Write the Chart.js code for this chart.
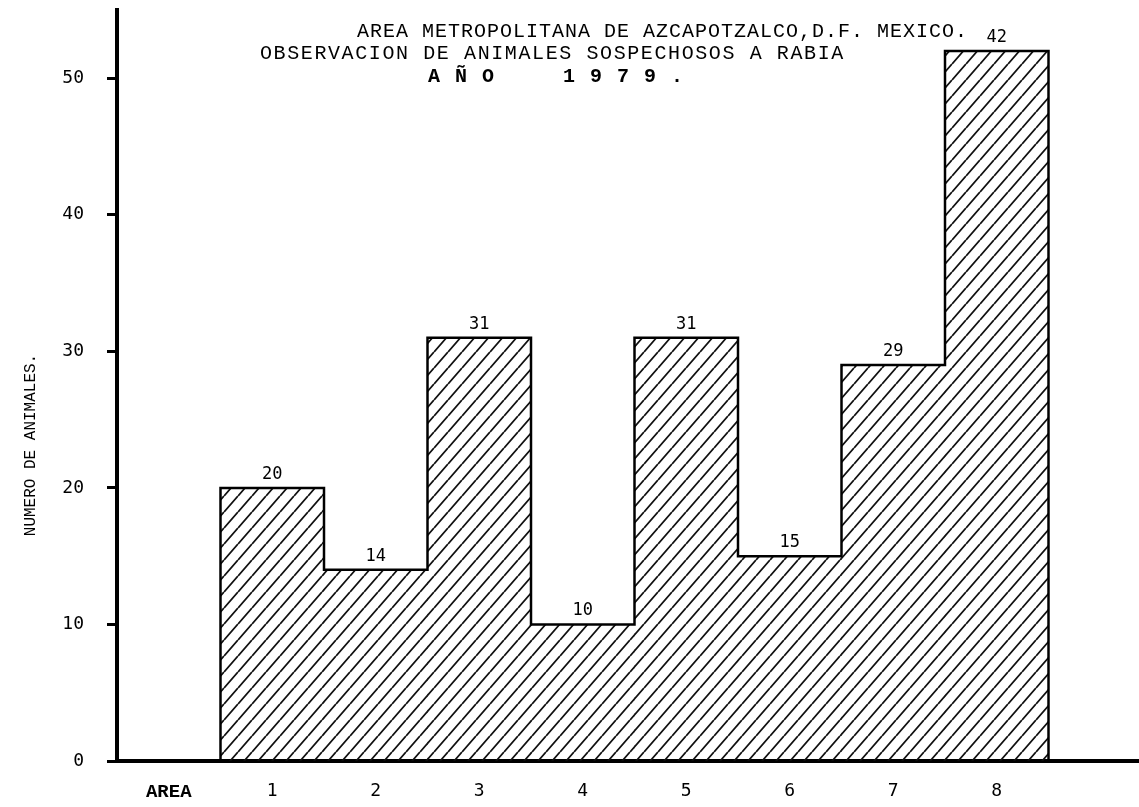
<!DOCTYPE html>
<html>
<head>
<meta charset="utf-8">
<script src="https://cdn.jsdelivr.net/npm/chart.js@4.4.0/dist/chart.umd.min.js"></script>
<style>
  html, body { margin: 0; padding: 0; background: #fff; overflow: hidden; }
  #wrap { width: 1152px; height: 807px; }
</style>
</head>
<body>
<div id="wrap"><canvas id="myChart" width="1152" height="807"></canvas></div>
<script>
// Areas of the histogram
const areas = ['1', '2', '3', '4', '5', '6', '7', '8'];
// Bar heights as drawn (last bar is drawn near 52 although it is typed 42)
const animalCounts = [20, 14, 31, 10, 31, 15, 29, 52];
// Numbers typed above the bars
const printedCounts = ['20', '14', '31', '10', '31', '15', '29', '42'];
const yTicks = [0, 10, 20, 30, 40, 50];
const titleLines = [
    'AREA METROPOLITANA DE AZCAPOTZALCO,D.F. MEXICO.',
    'OBSERVACION DE ANIMALES SOSPECHOSOS A RABIA',
    'A Ñ O     1 9 7 9 .'
];
const yTitle = 'NUMERO DE ANIMALES.';

// first slot holds the "AREA" caption, last slot is empty axis
const labels = ['AREA', ...areas, ''];

const canvas = document.getElementById('myChart');
const ctx = canvas.getContext('2d');

// diagonal hatch fill
function makeHatch() {
    const w = 14, h = 16;
    const tile = document.createElement('canvas');
    tile.width = w;
    tile.height = h;
    const g = tile.getContext('2d');
    g.strokeStyle = '#111';
    g.lineWidth = 1.8;
    g.beginPath();
    [-w, 0, w].forEach(dx => {
        g.moveTo(dx, h);
        g.lineTo(dx + w, 0);
    });
    g.stroke();
    return ctx.createPattern(tile, 'repeat');
}

const annotate = {
    id: 'annotate',
    afterDraw(chart) {
        const c = chart.ctx;
        c.save();
        c.fillStyle = '#000';

        // titles
        c.font = '20px "Liberation Mono"';
        c.textBaseline = 'middle';
        c.textAlign = 'left';
        c.letterSpacing = '1px';
        c.fillText(titleLines[0], 357, 32);
        c.letterSpacing = '1.6px';
        c.fillText(titleLines[1], 260, 54);
        c.font = 'bold 20px "Liberation Mono"';
        c.letterSpacing = '1.5px';
        c.fillText(titleLines[2], 428, 77);
        c.letterSpacing = '0px';

        // numbers above bars
        const bars = chart.getDatasetMeta(0).data;
        c.font = '17px "DejaVu Sans Mono"';
        c.textAlign = 'center';
        c.textBaseline = 'bottom';
        bars.forEach((bar, i) => {
            if (i === 0 || i > areas.length) return;
            c.fillText(printedCounts[i - 1], bar.x, bar.y - 5);
        });

        // y axis caption
        c.translate(31, 445);
        c.rotate(-Math.PI / 2);
        c.font = '16px "Liberation Mono"';
        c.textBaseline = 'middle';
        c.fillText(yTitle, 0, 0);
        c.restore();
    }
};

new Chart(ctx, {
    type: 'bar',
    data: {
        labels: labels,
        datasets: [
            {
                label: 'Animales',
                data: [null, ...animalCounts, null],
                backgroundColor: makeHatch(),
                borderWidth: 0,
                barPercentage: 1,
                categoryPercentage: 1,
                order: 1
            },
            {
                // outline of the stepped bars
                type: 'line',
                label: 'contorno',
                data: [0, ...animalCounts, 0],
                stepped: 'middle',
                borderColor: '#000',
                borderWidth: 2.5,
                pointRadius: 0,
                fill: false,
                order: 0
            }
        ]
    },
    options: {
        responsive: false,
        animation: false,
        layout: { padding: { top: 10, left: 0, right: 0, bottom: 0 } },
        plugins: {
            legend: { display: false },
            tooltip: { enabled: false },
            title: { display: false }
        },
        scales: {
            x: {
                grid: { display: false, drawTicks: false },
                border: { color: '#000', width: 4 },
                ticks: {
                    color: '#000',
                    padding: 20,
                    autoSkip: false,
                    maxRotation: 0,
                    font: c => c.index === 0
                        ? { family: 'Liberation Mono', size: 19, weight: 'bold' }
                        : { family: 'DejaVu Sans Mono', size: 18 }
                },
                afterFit: s => { s.height = 46; }
            },
            y: {
                min: 0,
                max: 55,
                afterBuildTicks: s => { s.ticks = yTicks.map(v => ({ value: v })); },
                grid: {
                    display: true,
                    drawOnChartArea: false,
                    drawTicks: true,
                    tickLength: 10,
                    tickWidth: 3,
                    tickColor: '#000'
                },
                border: { color: '#000', width: 4 },
                ticks: {
                    color: '#000',
                    padding: 23,
                    font: { family: 'DejaVu Sans Mono', size: 18 }
                },
                afterFit: s => {
                    s.width = 117;
                    s.paddingTop = 0;
                    s.paddingBottom = 0;
                }
            }
        }
    },
    plugins: [annotate]
});
</script>
</body>
</html>
